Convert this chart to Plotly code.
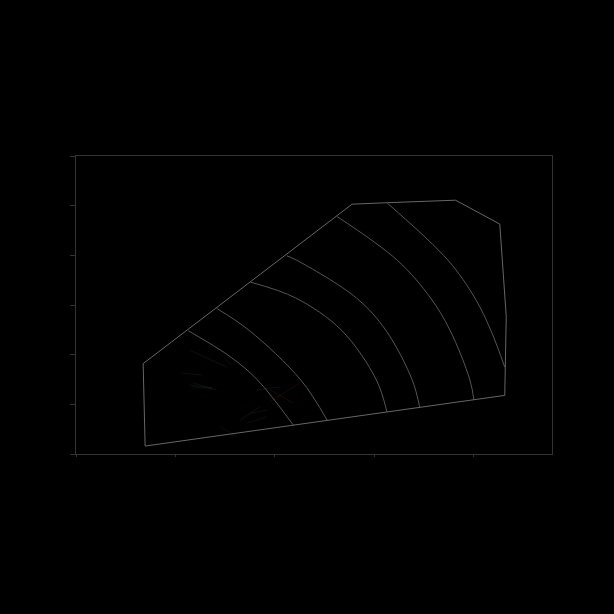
import plotly.graph_objects as go

# outline of the detector region (cm)
outline_x = [135, 139, 862, 865, 852, 763, 626, 555, 135]
outline_y = [182, 16, 118, 277, 463, 511, 506, 503, 182]

arcs = [
    ([226, 310, 365, 437], [248, 196, 149, 58]),
    ([283, 348, 452, 505], [293, 249, 149, 68]),
    ([351, 442, 534, 604, 625], [346, 314, 249, 149, 85]),
    ([424, 444, 564, 623, 676, 691], [399, 390, 314, 249, 149, 94]),
    ([525, 646, 713, 752, 792, 800], [478, 390, 314, 249, 149, 109]),
    ([626, 748, 802, 834, 862], [505, 390, 314, 249, 175]),
]

# faint track segments (start/end pairs), grouped by colour
teal_x = [229, 275, None, 363, 410, None, 330, 370, None, 212, 253, None, 229, 303]
teal_y = [139, 133, None, 129, 135, None, 68, 95, None, 163, 159, None, 209, 175]
red_x = [390, 450, None, 390, 436]
red_y = [105, 143, None, 129, 103]
green_x = [350, 383, None, 235, 283, None, 343, 383, None, 289, 323, None, 233, 273]
green_y = [82, 88, None, 143, 129, None, 62, 75, None, 55, 35, None, 135, 132]
blue_x = [299, 313]
blue_y = [193, 179]

fig = go.Figure()

for xs, ys, col in [(teal_x, teal_y, "rgba(40,150,160,0.18)"),
                    (red_x, red_y, "rgba(180,40,40,0.25)"),
                    (green_x, green_y, "rgba(40,140,70,0.18)"),
                    (blue_x, blue_y, "rgba(50,90,190,0.25)")]:
    fig.add_trace(go.Scatter(x=xs, y=ys, mode="lines",
                             line=dict(color=col, width=0.7),
                             hoverinfo="skip", showlegend=False))

for ax_, ay_ in arcs:
    fig.add_trace(go.Scatter(x=ax_, y=ay_, mode="lines",
                             line=dict(color="#555555", width=1, shape="spline", smoothing=1),
                             hoverinfo="skip", showlegend=False))

fig.add_trace(go.Scatter(x=outline_x, y=outline_y, mode="lines",
                         line=dict(color="#666666", width=1),
                         hoverinfo="skip", showlegend=False))

axis_style = dict(showgrid=False, zeroline=False, showline=True, mirror=True,
                  linecolor="#333333", linewidth=1, ticks="outside",
                  tickcolor="#333333", showticklabels=False)

fig.update_xaxes(range=[0, 957], dtick=200, ticklen=2, **axis_style)
fig.update_yaxes(range=[0, 600], dtick=100, ticklen=5, **axis_style)

fig.update_layout(
    width=614, height=614,
    paper_bgcolor="black", plot_bgcolor="black",
    margin=dict(l=76, r=62, t=156, b=160),
    showlegend=False,
)

fig.write_html("out.html", config={"displayModeBar": False},
               post_script="document.body.style.margin='0';document.body.style.background='black';")
